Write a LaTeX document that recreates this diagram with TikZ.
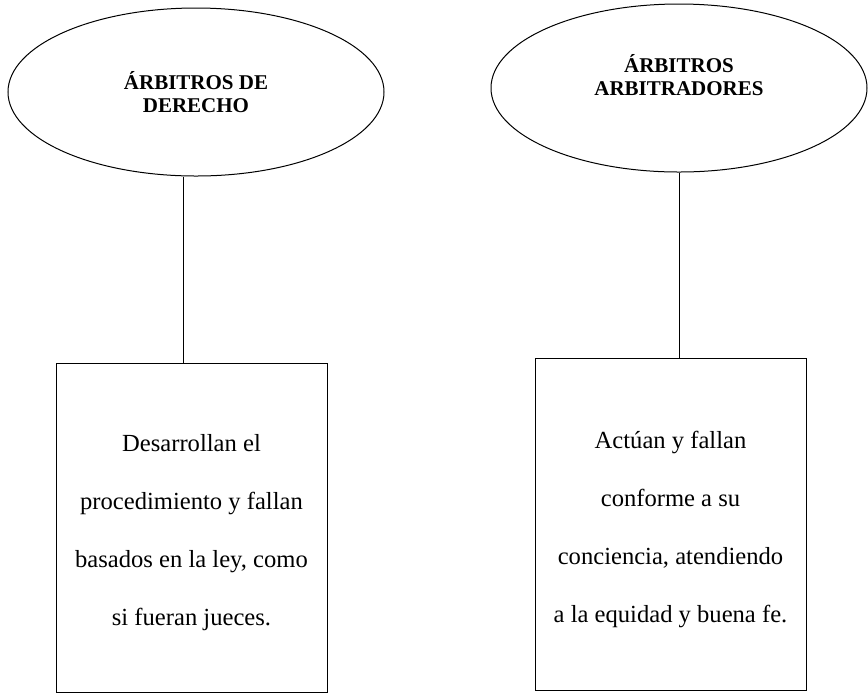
\documentclass[tikz,border=0pt]{standalone}
\usepackage{fontspec}
\setmainfont{Liberation Serif}
\usepackage{tikz}
\usetikzlibrary{shapes.geometric}

\begin{document}
\begin{tikzpicture}[x=0.5pt, y=-0.5pt,
    tipo/.style = {draw, ellipse, line width=0.5pt, minimum width=188pt, minimum height=84pt, inner sep=0pt,
                   align=center, font=\bfseries\fontsize{10.5}{11.8}\selectfont},
    caja/.style = {draw, rectangle, line width=0.5pt, minimum width=135.5pt, inner sep=0pt,
                   align=center, font=\fontsize{12.3}{29}\selectfont}]
    \useasboundingbox (0,0) rectangle (868,693);
    \node[tipo] (derecho) at (196,92) {ÁRBITROS DE\\DERECHO};
    \node[tipo, text depth=13pt] (arbitradores) at (679,88) {ÁRBITROS\\ARBITRADORES};
    \node[caja, minimum height=164.5pt] (derechoBox) at (191.5,527.5)
        {\rule{0pt}{14pt}Desarrollan el\\procedimiento y fallan\\basados en la ley, como\\si fueran jueces.};
    \node[caja, minimum height=166pt] (arbitradoresBox) at (670.5,524)
        {\rule{0pt}{14pt}Actúan y fallan\\conforme a su\\conciencia, atendiendo\\a la equidad y buena fe.};
    \coordinate (ejeL) at (183,0);
    \coordinate (ejeR) at (679,0);
    \draw[line width=0.5pt] (derecho.south -| ejeL) -- (derechoBox.north -| ejeL);
    \draw[line width=0.5pt] (arbitradores.south -| ejeR) -- (arbitradoresBox.north -| ejeR);
\end{tikzpicture}
\end{document}
